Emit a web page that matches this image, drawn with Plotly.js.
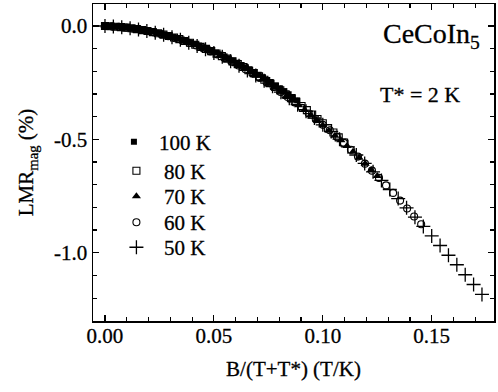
<!DOCTYPE html>
<html>
<head>
<meta charset="utf-8">
<script src="https://cdn.plot.ly/plotly-3.0.1.min.js"></script>
<style>
  html, body { margin: 0; padding: 0; background: #fff; }
  #chart { width: 498px; height: 392px; }
  /* slightly heavier glyphs for the serif labels */
  #chart text { stroke: #000; stroke-width: 0.3px; }
</style>
</head>
<body>
<div id="chart"></div>
<script>
// Applied magnetic field (T) for every temperature sweep
const fieldT = [0, 0.2, 0.4, 0.6, 0.8, 1.0, 1.2, 1.4, 1.6, 1.8, 2.0, 2.2, 2.4, 2.6, 2.8, 3.0,
  3.2, 3.4, 3.6, 3.8, 4.0, 4.2, 4.4, 4.6, 4.8, 5.0, 5.2, 5.4, 5.6, 5.8, 6.0, 6.2, 6.4, 6.6,
  6.8, 7.0, 7.2, 7.4, 7.6, 7.8, 8.0, 8.2, 8.4, 8.6, 8.8, 9.0];

// Scaling temperature T* (K)
const tStar = 2;

// Sweep temperatures (K) and their legend labels
const temps = [100, 80, 70, 60, 50];
const labels = ["100 K", "80 K", "70 K", "60 K", "50 K"];

// Magnetic longitudinal magnetoresistance LMR_mag (%) for each sweep
const lmr100 = [0, -0.001, -0.002, -0.003, -0.005, -0.007, -0.010, -0.012, -0.015, -0.018,
  -0.022, -0.025, -0.030, -0.034, -0.039, -0.044, -0.049, -0.054, -0.060, -0.066, -0.073,
  -0.079, -0.086, -0.094, -0.101, -0.109, -0.117, -0.126, -0.134, -0.143, -0.153, -0.162,
  -0.172, -0.182, -0.193, -0.204, -0.215, -0.226, -0.238, -0.250, -0.262, -0.275, -0.287,
  -0.301, -0.314, -0.328];
const lmr80 = [0, -0.001, -0.003, -0.005, -0.007, -0.010, -0.014, -0.018, -0.022, -0.027,
  -0.032, -0.038, -0.044, -0.051, -0.058, -0.066, -0.074, -0.083, -0.092, -0.101, -0.111,
  -0.122, -0.133, -0.144, -0.156, -0.168, -0.181, -0.195, -0.208, -0.222, -0.237, -0.252,
  -0.268, -0.284, -0.301, -0.318, -0.335, -0.353, -0.371, -0.390, -0.410, -0.429, -0.450,
  -0.470, -0.491, -0.514];
const lmr70 = [0, -0.001, -0.003, -0.006, -0.009, -0.013, -0.017, -0.023, -0.028, -0.035,
  -0.041, -0.049, -0.057, -0.066, -0.075, -0.085, -0.096, -0.107, -0.119, -0.131, -0.145,
  -0.158, -0.173, -0.188, -0.203, -0.219, -0.236, -0.254, -0.272, -0.290, -0.309, -0.329,
  -0.350, -0.371, -0.393, -0.415, -0.438, -0.462, -0.484, -0.504, -0.529, -0.555, -0.581,
  -0.608, -0.635, -0.662];
const lmr60 = [0, -0.002, -0.004, -0.007, -0.012, -0.017, -0.022, -0.029, -0.036, -0.045,
  -0.054, -0.064, -0.075, -0.086, -0.099, -0.112, -0.126, -0.141, -0.157, -0.174, -0.191,
  -0.209, -0.228, -0.248, -0.269, -0.291, -0.313, -0.337, -0.361, -0.386, -0.411, -0.436,
  -0.460, -0.488, -0.516, -0.546, -0.576, -0.607, -0.638, -0.670, -0.703, -0.736, -0.770,
  -0.805, -0.840, -0.874];
const lmr50 = [0, -0.002, -0.005, -0.010, -0.015, -0.022, -0.030, -0.039, -0.050, -0.061,
  -0.074, -0.088, -0.103, -0.119, -0.136, -0.155, -0.175, -0.196, -0.218, -0.241, -0.266,
  -0.292, -0.319, -0.347, -0.376, -0.406, -0.436, -0.465, -0.499, -0.533, -0.569, -0.606,
  -0.643, -0.681, -0.721, -0.761, -0.802, -0.843, -0.884, -0.926, -0.968, -1.011, -1.053,
  -1.097, -1.140, -1.184];

const series = [lmr100, lmr80, lmr70, lmr60, lmr50];

// Marker style per sweep
const markerStyles = [
  { symbol: "square", size: 6, color: "#000", line: { width: 0 } },
  { symbol: "square-open", size: 7, color: "#000", line: { width: 1.1, color: "#000" } },
  { symbol: "triangle-up", size: 8, color: "#000", line: { width: 0 } },
  { symbol: "circle-open", size: 7, color: "#000", line: { width: 1.1, color: "#000" } },
  { symbol: "cross-thin-open", size: 10, color: "#000", line: { width: 1.3, color: "#000" } }
];

const serif = "Liberation Serif, Times New Roman, serif";
const legendIds = ["legend", "legend2", "legend3", "legend4", "legend5"];

const traces = temps.map((T, i) => ({
  type: "scatter",
  mode: "markers",
  name: labels[i],
  legend: legendIds[i],
  x: fieldT.map(b => b / (T + tStar)),
  y: series[i],
  marker: markerStyles[i],
  cliponaxis: false,
  hoverinfo: "skip"
}));

// One legend box per row so the rows sit at their own heights
const legendRowY = [0.5646, 0.4731, 0.3926, 0.3106, 0.2316];
const legendItemW = [40, 45, 45, 45, 45];
function legendBox(i) {
  return {
    x: 0.0397,
    y: legendRowY[i],
    xanchor: "left",
    yanchor: "middle",
    itemwidth: legendItemW[i],
    bgcolor: "rgba(0,0,0,0)",
    borderwidth: 0,
    font: { family: serif, size: 21, color: "#000" }
  };
}

const axisCommon = {
  showline: true,
  linecolor: "#000",
  linewidth: 1.5,
  mirror: "allticks",
  ticks: "inside",
  ticklen: 6,
  tickwidth: 1.2,
  tickcolor: "#000",
  showgrid: false,
  zeroline: false,
  tickfont: { family: serif, size: 21, color: "#000" },
  minor: { ticks: "inside", ticklen: 4, tickwidth: 1.2, tickcolor: "#000", showgrid: false }
};

const layout = {
  width: 498,
  height: 392,
  margin: { l: 93, r: 4, t: 4, b: 71 },
  paper_bgcolor: "#fff",
  plot_bgcolor: "#fff",
  showlegend: true,
  legend: legendBox(0),
  legend2: legendBox(1),
  legend3: legendBox(2),
  legend4: legendBox(3),
  legend5: legendBox(4),
  xaxis: Object.assign({}, axisCommon, {
    range: [-0.0055, 0.1786],
    tickvals: [0, 0.05, 0.10, 0.15],
    ticktext: ["0.00", "0.05", "0.10", "0.15"],
    minor: Object.assign({}, axisCommon.minor, { dtick: 0.01, tick0: 0 }),
    ticklabelstandoff: -5,
    title: { text: "B/(T+T*) (T/K)", font: { family: serif, size: 21, color: "#000" }, standoff: 14 }
  }),
  yaxis: Object.assign({}, axisCommon, {
    range: [-1.301, 0.097],
    tickvals: [0, -0.5, -1.0],
    ticktext: ["0.0", "-0.5", "-1.0"],
    minor: Object.assign({}, axisCommon.minor, { dtick: 0.1, tick0: 0 }),
    title: { text: "LMR<sub>mag</sub> (%)", font: { family: serif, size: 21, color: "#000" }, standoff: 14 }
  }),
  annotations: [
    {
      xref: "paper", yref: "paper", x: 0.97, y: 0.90, xanchor: "right", yanchor: "middle",
      text: "CeCoIn<sub>5</sub>", showarrow: false,
      font: { family: serif, size: 28, color: "#000" }
    },
    {
      xref: "paper", yref: "paper", x: 0.92, y: 0.713, xanchor: "right", yanchor: "middle",
      text: "T* = 2 K", showarrow: false,
      font: { family: serif, size: 22, color: "#000" }
    }
  ]
};

Plotly.newPlot("chart", traces, layout, { displayModeBar: false, staticPlot: true });
</script>
</body>
</html>
